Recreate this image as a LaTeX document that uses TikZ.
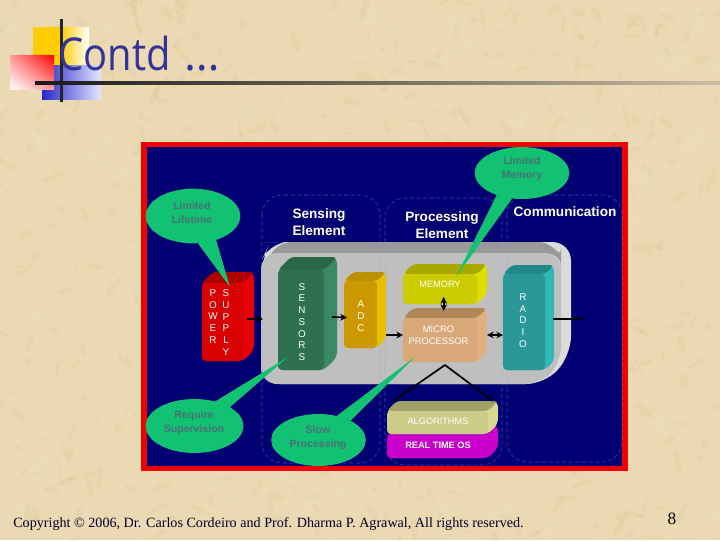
\documentclass[tikz,border=0pt]{standalone}
\usepackage{fontspec}
\setmainfont{Liberation Serif}
\setsansfont{Liberation Sans}
\newfontfamily\titlefont[FakeStretch=0.88]{Open Sans}
\newfontfamily\titledots{Open Sans}
\usetikzlibrary{shapes.geometric,arrows.meta,calc,shadings}
\definecolor{paper}{HTML}{EAD9B2}
\definecolor{navy}{HTML}{000072}
\definecolor{panelred}{HTML}{F00000}
\definecolor{callgreen}{HTML}{10C272}
\definecolor{calltext}{HTML}{4A7078}
\definecolor{titleblue}{HTML}{333399}
\definecolor{logoyellow}{HTML}{FFCC00}
\definecolor{logoblue}{HTML}{2828C8}
\definecolor{pwrF}{HTML}{D80000}\definecolor{pwrT}{HTML}{B00000}\definecolor{pwrS}{HTML}{E60000}
\definecolor{senF}{HTML}{2F7050}\definecolor{senT}{HTML}{2A6648}\definecolor{senS}{HTML}{3A8A68}
\definecolor{adcF}{HTML}{CC9900}\definecolor{adcT}{HTML}{B89000}\definecolor{adcS}{HTML}{E6C000}
\definecolor{memF}{HTML}{CCCC00}\definecolor{memT}{HTML}{A8A800}\definecolor{memS}{HTML}{DDDD00}
\definecolor{micF}{HTML}{D8A878}\definecolor{micT}{HTML}{B08858}\definecolor{micS}{HTML}{E0B080}
\definecolor{radF}{HTML}{2A9898}\definecolor{radT}{HTML}{208888}\definecolor{radS}{HTML}{30B8B8}
\definecolor{algF}{HTML}{CCCC88}\definecolor{algT}{HTML}{A0A068}\definecolor{algS}{HTML}{D8D890}
\definecolor{rtoF}{HTML}{CC00CC}\definecolor{rtoT}{HTML}{AA00AA}\definecolor{rtoS}{HTML}{CC00CC}
\tikzset{
  x=0.75pt,y=-0.75pt,
  callout/.style={ellipse,fill=callgreen,inner sep=0pt,outer sep=0pt},
  tail/.style={fill=callgreen},
  calltxt/.style={font=\sffamily\bfseries\fontsize{7.9}{10.5}\selectfont,text=calltext,align=center,inner sep=0pt},
  heading/.style={font=\sffamily\bfseries\fontsize{10.2}{12.8}\selectfont,text=white,align=center,inner sep=0pt},
  blocktxt/.style={font=\sffamily\fontsize{6.9}{9}\selectfont,text=white,align=center,inner sep=0pt},
  stacktxt/.style={font=\sffamily\fontsize{7.4}{8.8}\selectfont,text=white,align=center,inner sep=0pt},
  conn/.style={draw=black,line width=1.3pt,-{Stealth[length=5pt,width=5pt]}},
  biconn/.style={draw=black,line width=1.3pt,{Stealth[length=5pt,width=5pt]}-{Stealth[length=5pt,width=5pt]}},
  plainline/.style={draw=black,line width=1.3pt},
  zone/.style={draw=blue!40!white,draw opacity=.45,densely dashed,line width=.4pt,rounded corners=15pt},
}
% name x1 y1 x2 y2 depth front top side
\newcommand{\blockbox}[9]{%
  \fill[#9,rounded corners=4pt] (#2,{#3+#6})--({#2+#6},#3)--(#4,#3)--(#4,{#5-#6})--({#4-#6},#5)--(#2,#5)--cycle;
  \fill[#8,rounded corners=3pt] (#2,{#3+#6})--({#2+#6},#3)--(#4,#3)--({#4-#6},{#3+#6})--cycle;
  \fill[#7,rounded corners=3pt] (#2,{#3+#6}) rectangle ({#4-#6},#5);
  \node[inner sep=0pt,outer sep=0pt,minimum width={(#4-#2)*0.75pt},minimum height={(#5-#3)*0.75pt}] (#1) at ({(#2+#4)/2},{(#3+#5)/2}) {};
}
\begin{document}
\begin{tikzpicture}
\useasboundingbox (0,0) rectangle (720,540);
% paper texture
\fill[paper] (0,0) rectangle (720,540);
\begin{scope}
\clip (0,0) rectangle (720,540);
\pgfmathsetseed{17}
\foreach \i in {1,...,500}{
  \pgfmathsetmacro{\px}{720*rnd}\pgfmathsetmacro{\py}{540*rnd}
  \pgfmathsetmacro{\ra}{5+12*rnd}\pgfmathsetmacro{\rb}{2+5*rnd}\pgfmathsetmacro{\ro}{180*rnd}
  \fill[white,opacity=.05,rotate around={\ro:(\px,\py)}] (\px,\py) ellipse [x radius=\ra,y radius=\rb];
}
\foreach \i in {1,...,500}{
  \pgfmathsetmacro{\px}{720*rnd}\pgfmathsetmacro{\py}{540*rnd}
  \pgfmathsetmacro{\ra}{3+9*rnd}\pgfmathsetmacro{\rb}{1+3*rnd}\pgfmathsetmacro{\ro}{180*rnd}
  \fill[brown!75!black,opacity=.04,rotate around={\ro:(\px,\py)}] (\px,\py) ellipse [x radius=\ra,y radius=\rb];
}
\end{scope}
% logo
\shade[left color=logoyellow,right color=white] (60,27) rectangle (89,66);
\fill[logoyellow] (33,27) rectangle (60.5,66);
\shade[left color=logoblue,right color=white!90!blue] (42,65) rectangle (101,99);
\shade[lower left=white,upper right=red,upper left=white!60!red,lower right=white!60!red] (10,55) rectangle (54,89);
\fill[black!85] (60,19) rectangle (62.5,102);
\shade[left color=black!90,right color=paper!70!gray] (35,81) rectangle (720,84);
\node[font=\titlefont\fontsize{34}{40}\selectfont,text=titleblue,anchor=base west,inner sep=0pt] (title) at (58,70) {Contd\hspace{3pt} {\titledots …}};
% panel
\fill[panelred] (141,142) rectangle (628,471);
\fill[navy] (147,147) rectangle (622,466);
% platform
\fill[black!14,rounded corners=14pt] (283,242)--(571,242)--(571,355)--(545,384)--(261,384)--(261,262)--(270,242)--cycle;
\fill[black!40,rounded corners=10pt] (261,272)--(278,242)--(552,242)--(561,260)--(561,253)--cycle;
\fill[black!25,rounded corners=12pt] (261,253)--(561,253)--(561,362)--(541,384)--(261,384)--cycle;
\fill[black!25] (278,253) rectangle (545,262);
% dashed zones
\draw[zone] (262,195) rectangle (380,463);
\draw[zone] (385,198) rectangle (502,465);
\draw[zone] (507,195) rectangle (622,462);
% blocks
\blockbox{power}{202}{272}{254}{361}{11}{pwrF}{pwrT}{pwrS}
\blockbox{sensors}{278}{257}{337}{370}{13}{senF}{senT}{senS}
\blockbox{adc}{344}{272}{386}{348}{9}{adcF}{adcT}{adcS}
\blockbox{memory}{403}{264}{487}{304}{10}{memF}{memT}{memS}
\blockbox{micro}{403}{308}{487}{362}{10}{micF}{micT}{micS}
\blockbox{radio}{503}{265}{554}{370}{9}{radF}{radT}{radS}
\blockbox{rtos}{387}{425}{498}{458}{10}{rtoF}{rtoT}{rtoS}
\blockbox{algorithms}{387}{401}{498}{434}{10}{algF}{algT}{algS}
% block texts
\node[stacktxt] (powerlbl) at (213,316.5) {P\\O\\W\\E\\R};
\node[stacktxt] (supplylbl) at (226,322.5) {S\\U\\P\\P\\L\\Y};
\node[stacktxt] (sensorslbl) at (302,322) {S\\E\\N\\S\\O\\R\\S};
\node[stacktxt] (adclbl) at (361,316) {A\\D\\C};
\node[stacktxt] (radiolbl) at (523,320.5) {R\\A\\D\\I\\O};
\node[blocktxt] (memorylbl) at (440,284.5) {MEMORY};
\node[blocktxt,font=\sffamily\fontsize{7}{9}\selectfont] (microlbl) at (438.5,335) {MICRO\\PROCESSOR};
\node[blocktxt] (alglbl) at (438,421) {ALGORITHMS};
\node[blocktxt,font=\sffamily\bfseries\fontsize{6.9}{9}\selectfont] (rtoslbl) at (438,445) {REAL TIME OS};
% headings
\node[heading] (sensing) at (319,222.5) {Sensing\\Element};
\node[heading] (processing) at (442,225) {Processing\\Element};
\node[heading] (communication) at (565,212) {Communication};
% connectors
\draw[conn] ([shift={(-7,2.5)}]power.east) -- ([shift={(-15,5.5)}]sensors.west);
\draw[conn] ([shift={(-5,3.5)}]sensors.east) -- ([shift={(3,7.5)}]adc.west);
\draw[conn] (adc.east|-micro.west) -- (micro.west);
\draw[biconn] ([xshift=-1pt]memory.south|-0,297) -- ([xshift=-1pt]micro.north|-0,311);
\draw[biconn] (micro.east) -- (radio.west|-micro.east);
\draw[plainline,-{Stealth[length=3pt,width=3pt]}] ([xshift=-1pt]radio.east|-0,319) -- ++(31,0);
\coordinate (apex) at (445,365);
\draw[plainline] (apex) -- ([shift={(6,0)}]algorithms.north west);
\draw[plainline] (apex) -- ([shift={(-5,0)}]algorithms.north east);
% callouts
\node[callout,minimum width=71pt,minimum height=41pt] (lifetime) at (193,216) {};
\coordinate (lifetimetip) at (230,287);
\fill[tail] (lifetime.-80) -- (lifetimetip) -- (lifetime.-46) -- cycle;
\node[calltxt] (lifetimetxt) at (192,213) {Limited\\Lifetime};
\node[callout,minimum width=71pt,minimum height=39pt] (memcall) at (522,173) {};
\coordinate (memcalltip) at (456,277);
\fill[tail] (memcall.221) -- (memcalltip) -- (memcall.249) -- cycle;
\node[calltxt] (memcalltxt) at (522,169) {Limited\\Memory};
\node[callout,minimum width=73.5pt,minimum height=40.5pt] (supervision) at (194.5,426) {};
\coordinate (supervisiontip) at (288,357);
\fill[tail] (supervision.50) -- (supervisiontip) -- (supervision.28) -- cycle;
\node[calltxt] (supervisiontxt) at (194,423) {Require\\Supervision};
\node[callout,minimum width=71pt,minimum height=39pt] (slow) at (318.5,440) {};
\coordinate (slowtip) at (415,357);
\fill[tail] (slow.53) -- (slowtip) -- (slow.31) -- cycle;
\node[calltxt] (slowtxt) at (318,437.5) {Slow\\Processing};
% footer
\node[font=\fontsize{10.6}{12}\selectfont,text=black!85!blue,anchor=base west,inner sep=0pt] (copyright) at (13,527) {Copyright © 2006, Dr. Carlos Cordeiro and Prof. Dharma P. Agrawal, All rights reserved.};
\node[font=\fontsize{13}{15}\selectfont,text=black,inner sep=0pt] (pagenum) at (672,519) {8};
\end{tikzpicture}
\end{document}
